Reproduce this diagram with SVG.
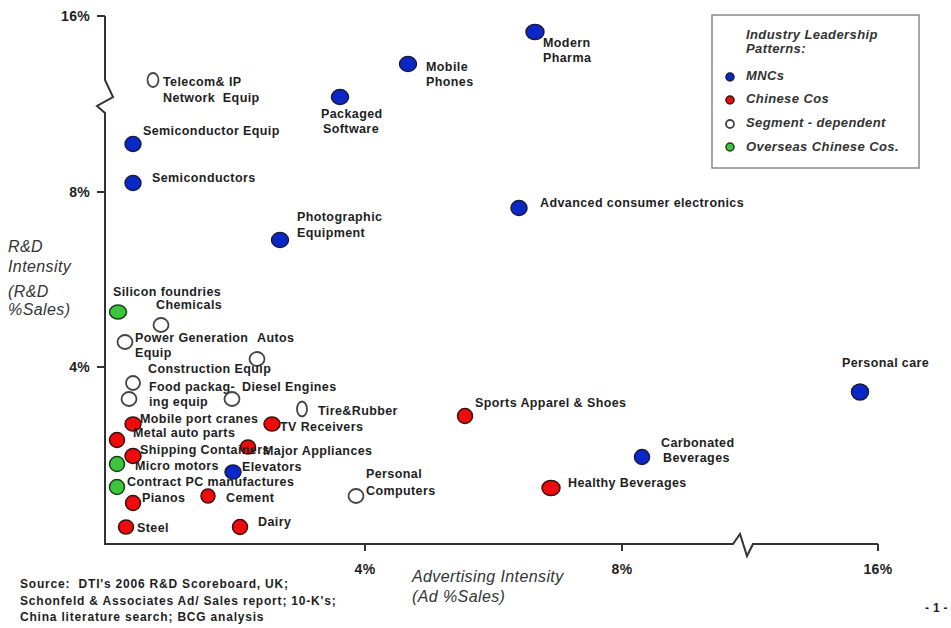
<svg xmlns="http://www.w3.org/2000/svg" width="951" height="628" viewBox="0 0 951 628">
<style>
  text { font-family: "Liberation Sans", Arial, sans-serif; fill: #1e1e1e; white-space: pre; }
  .lbl { font-size: 12.5px; font-weight: bold; letter-spacing: 0.4px; }
  .tick { font-size: 14px; font-weight: bold; letter-spacing: 0.3px; }
  .ax { font-size: 16px; font-style: italic; letter-spacing: 0.4px; fill: #333; }
  .src { font-size: 12px; font-weight: bold; letter-spacing: 0.8px; }
  .leg { font-size: 13px; font-style: italic; font-weight: bold; letter-spacing: 0.4px; fill: #333; }
  .axis { fill: none; stroke: #333; stroke-width: 2; }
  .mnc { fill: #0a28c8; stroke: #1a1a40; stroke-width: 1.5; }
  .chn { fill: #ee0b0b; stroke: #3a1010; stroke-width: 1.5; }
  .seg { fill: #ffffff; stroke: #444; stroke-width: 1.8; }
  .ovs { fill: #3cc63c; stroke: #1a401a; stroke-width: 1.5; }
</style>
<rect width="951" height="628" fill="#ffffff"/>

<g id="axes">
  <path class="axis" d="M105,16 L105,80 L113,97 L97,106 L105,113 L105,544 L733,544 L740,534 L747,556 L753,544 L878,544"/>
  <path class="axis" d="M97,16 L105,16 M97,192 L105,192 M97,367 L105,367 M365,544 L365,551 M622,544 L622,551 M878,544 L878,551"/>
  <text class="tick" x="90" y="21" text-anchor="end">16%</text>
  <text class="tick" x="90" y="197" text-anchor="end">8%</text>
  <text class="tick" x="90" y="372" text-anchor="end">4%</text>
  <text class="tick" x="365" y="574" text-anchor="middle">4%</text>
  <text class="tick" x="622" y="574" text-anchor="middle">8%</text>
  <text class="tick" x="878" y="574" text-anchor="middle">16%</text>
  <text class="ax" x="8" y="252">R&amp;D</text>
  <text class="ax" x="8" y="272">Intensity</text>
  <text class="ax" x="8" y="297">(R&amp;D</text>
  <text class="ax" x="8" y="315">%Sales)</text>
  <text class="ax" x="412" y="582">Advertising Intensity</text>
  <text class="ax" x="412" y="602">(Ad %Sales)</text>
</g>

<g id="legend">
  <rect x="712" y="15" width="207" height="153" fill="#ffffff" stroke="#888" stroke-width="1.5"/>
  <text class="leg" x="746" y="39">Industry Leadership</text>
  <text class="leg" x="746" y="53">Patterns:</text>
  <circle class="mnc" cx="730" cy="77" r="4"/>
  <text class="leg" x="746" y="80">MNCs</text>
  <circle class="chn" cx="730" cy="100" r="4"/>
  <text class="leg" x="746" y="103">Chinese Cos</text>
  <circle class="seg" cx="730" cy="124" r="4" stroke-width="1.3"/>
  <text class="leg" x="746" y="127">Segment - dependent</text>
  <circle class="ovs" cx="730" cy="147" r="4"/>
  <text class="leg" x="746" y="151">Overseas Chinese Cos.</text>
</g>

<g id="modern-pharma"><ellipse class="mnc" cx="535" cy="32" rx="9" ry="7.5"/><text class="lbl" x="543" y="47">Modern</text><text class="lbl" x="543" y="62">Pharma</text></g>
<g id="mobile-phones"><ellipse class="mnc" cx="408" cy="64" rx="8.5" ry="7.5"/><text class="lbl" x="426" y="71">Mobile</text><text class="lbl" x="426" y="86">Phones</text></g>
<g id="packaged-software"><ellipse class="mnc" cx="340" cy="97" rx="8.5" ry="7.5"/><text class="lbl" x="321" y="118">Packaged</text><text class="lbl" x="323" y="133">Software</text></g>
<g id="telecom"><ellipse class="seg" cx="153" cy="80" rx="5.5" ry="7"/><text class="lbl" x="163" y="86">Telecom&amp; IP</text><text class="lbl" x="163" y="102">Network  Equip</text></g>
<g id="semi-equip"><ellipse class="mnc" cx="133" cy="144" rx="8" ry="7.5"/><text class="lbl" x="143" y="135">Semiconductor Equip</text></g>
<g id="semiconductors"><ellipse class="mnc" cx="133" cy="183" rx="8" ry="7.5"/><text class="lbl" x="152" y="182">Semiconductors</text></g>
<g id="adv-consumer"><ellipse class="mnc" cx="519" cy="208" rx="8" ry="7.5"/><text class="lbl" x="540" y="207">Advanced consumer electronics</text></g>
<g id="photographic"><ellipse class="mnc" cx="280" cy="240" rx="8.5" ry="7.5"/><text class="lbl" x="297" y="221">Photographic</text><text class="lbl" x="297" y="237">Equipment</text></g>
<g id="personal-care"><ellipse class="mnc" cx="860" cy="392" rx="8.5" ry="8"/><text class="lbl" x="842" y="367">Personal care</text></g>
<g id="carbonated"><ellipse class="mnc" cx="642" cy="457" rx="7.5" ry="7.5"/><text class="lbl" x="661" y="447">Carbonated</text><text class="lbl" x="663" y="462">Beverages</text></g>

<g id="silicon-foundries"><ellipse class="ovs" cx="118" cy="312" rx="8.5" ry="7"/><text class="lbl" x="113" y="296">Silicon foundries</text></g>
<g id="chemicals"><ellipse class="seg" cx="161" cy="325" rx="7.5" ry="7"/><text class="lbl" x="156" y="309">Chemicals</text></g>
<g id="power-gen"><ellipse class="seg" cx="125" cy="342" rx="7.5" ry="7"/><text class="lbl" x="135" y="342">Power Generation</text><text class="lbl" x="135" y="357">Equip</text></g>
<g id="autos"><ellipse class="seg" cx="257" cy="359" rx="7.5" ry="7"/><text class="lbl" x="257" y="342">Autos</text></g>
<g id="construction"><ellipse class="seg" cx="133" cy="383" rx="7" ry="7"/><text class="lbl" x="148" y="373">Construction Equip</text></g>
<g id="food-packaging"><ellipse class="seg" cx="129" cy="399" rx="7.5" ry="7"/><text class="lbl" x="149" y="391">Food packag-</text><text class="lbl" x="149" y="406">ing equip</text></g>
<g id="diesel"><ellipse class="seg" cx="232" cy="399" rx="7.5" ry="7"/><text class="lbl" x="242" y="391">Diesel Engines</text></g>
<g id="tire"><ellipse class="seg" cx="302" cy="409" rx="5" ry="7.5"/><text class="lbl" x="318" y="415">Tire&amp;Rubber</text></g>
<g id="sports"><ellipse class="chn" cx="465" cy="416" rx="7.5" ry="7.5"/><text class="lbl" x="475" y="407">Sports Apparel &amp; Shoes</text></g>
<g id="tv"><ellipse class="chn" cx="272" cy="424" rx="8" ry="7"/><text class="lbl" x="280" y="431">TV Receivers</text></g>
<g id="port-cranes"><ellipse class="chn" cx="133" cy="424" rx="8" ry="7"/><text class="lbl" x="140" y="423">Mobile port cranes</text></g>
<g id="metal-auto"><ellipse class="chn" cx="117" cy="440" rx="7.5" ry="7.5"/><text class="lbl" x="133" y="437">Metal auto parts</text></g>
<g id="major-appliances"><ellipse class="chn" cx="248" cy="447" rx="7.5" ry="7"/><text class="lbl" x="263" y="455">Major Appliances</text></g>
<g id="shipping"><ellipse class="chn" cx="133" cy="456" rx="8" ry="7.5"/><text class="lbl" x="140" y="454">Shipping Containers</text></g>
<g id="micro-motors"><ellipse class="ovs" cx="117" cy="464" rx="7.5" ry="7.5"/><text class="lbl" x="135" y="470">Micro motors</text></g>
<g id="elevators"><ellipse class="mnc" cx="233" cy="472" rx="8" ry="7"/><text class="lbl" x="242" y="471">Elevators</text></g>
<g id="contract-pc"><ellipse class="ovs" cx="117" cy="487" rx="7.5" ry="7.5"/><text class="lbl" x="127" y="486">Contract PC manufactures</text></g>
<g id="personal-computers"><ellipse class="seg" cx="356" cy="496" rx="7.5" ry="7"/><text class="lbl" x="366" y="478">Personal</text><text class="lbl" x="366" y="495">Computers</text></g>
<g id="healthy-beverages"><ellipse class="chn" cx="551" cy="488" rx="9" ry="7.5"/><text class="lbl" x="568" y="487">Healthy Beverages</text></g>
<g id="pianos"><ellipse class="chn" cx="133" cy="503" rx="7.5" ry="7.5"/><text class="lbl" x="142" y="502">Pianos</text></g>
<g id="cement"><ellipse class="chn" cx="208" cy="496" rx="7" ry="7"/><text class="lbl" x="226" y="502">Cement</text></g>
<g id="steel"><ellipse class="chn" cx="126" cy="527" rx="7.5" ry="7"/><text class="lbl" x="137" y="532">Steel</text></g>
<g id="dairy"><ellipse class="chn" cx="240" cy="527" rx="7.5" ry="7.5"/><text class="lbl" x="258" y="526">Dairy</text></g>

<g id="connectors"></g>

<g id="source">
  <text class="src" x="20" y="588">Source:  DTI's 2006 R&amp;D Scoreboard, UK;</text>
  <text class="src" x="20" y="605">Schonfeld &amp; Associates Ad/ Sales report; 10-K's;</text>
  <text class="src" x="20" y="621">China literature search; BCG analysis</text>
  <text class="src" x="925" y="612" style="letter-spacing:0.3px">- 1 -</text>
</g>
</svg>
